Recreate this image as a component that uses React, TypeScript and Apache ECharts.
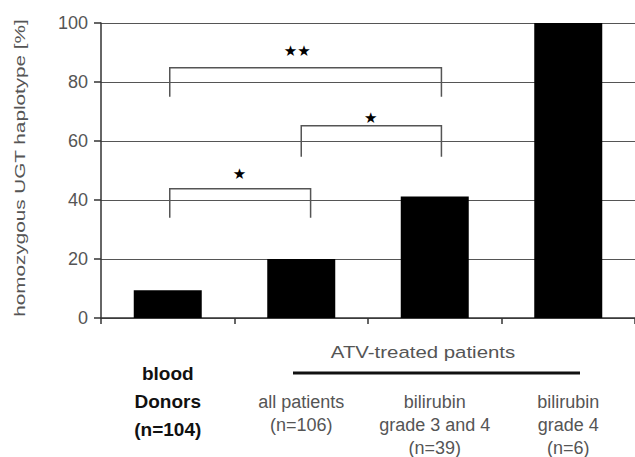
import React, { useEffect, useRef } from "react";
import * as echarts from "echarts";

const categories = [
  "{b|blood}\n{b|Donors}\n{b|(n=104)}",
  "{s| }\n{n|all patients}\n{n|(n=106)}",
  "{s| }\n{n|bilirubin}\n{n|grade 3 and 4}\n{n|(n=39)}",
  "{s| }\n{n|bilirubin}\n{n|grade 4}\n{n|(n=6)}",
];
const values = [9.4, 20, 41.2, 100];
const yTicks = [0, 20, 40, 60, 80, 100];

// significance brackets (x in category-index units, y in %)
const bracketFrom = [0.015, 1.0, 0.015];
const bracketTo = [1.07, 2.05, 2.05];
const bracketTop = [43.8, 65.2, 84.8];
const bracketBottom = [34.0, 54.7, 75.0];
const starX = [0.537, 1.52, 0.97];
const starY = [48.9, 67.9, 90.6];
const starText = ["★", "★", "★★"];

const groupLabel = "ATV-treated patients";
const yName = "homozygous UGT haplotype [%]";

const FONT = "'Liberation Sans', Arial, sans-serif";

export default function App() {
  const ref = useRef<HTMLDivElement>(null);
  useEffect(() => {
    if (!ref.current) return;
    const chart = echarts.init(ref.current, null, { renderer: "svg" });
    const bracketData = bracketFrom.map((f, i) => [
      f,
      bracketTo[i],
      bracketTop[i],
      bracketBottom[i],
      starX[i],
      starY[i],
    ]);
    chart.setOption({
      animation: false,
      backgroundColor: "#fff",
      textStyle: { fontFamily: FONT },
      grid: { left: 101, right: 0, top: 23, bottom: 139, containLabel: false },
      xAxis: [
        {
          type: "category",
          data: categories,
          boundaryGap: true,
          axisLine: { show: true, lineStyle: { color: "#333", width: 1.5 } },
          axisTick: { show: true, length: 6, lineStyle: { color: "#333", width: 1.5 } },
          axisLabel: {
            margin: 41,
            interval: 0,
            fontFamily: FONT,
            rich: {
              b: { fontWeight: "bold", fontSize: 19, lineHeight: 28, color: "#111", fontFamily: FONT },
              n: { fontSize: 18, lineHeight: 23, color: "#555", fontFamily: FONT },
              s: { fontSize: 2, lineHeight: 31 },
            },
          },
        },
        {
          type: "value",
          min: -0.5,
          max: 3.5,
          show: false,
          position: "top",
        },
      ],
      yAxis: {
        type: "value",
        min: 0,
        max: 100,
        interval: 20,
        axisLine: { show: true, onZero: false, lineStyle: { color: "#333", width: 1.5 } },
        axisTick: { show: true, length: 7, lineStyle: { color: "#333", width: 1.5 } },
        axisLabel: {
          margin: 13,
          fontSize: 18,
          color: "#555",
          fontFamily: FONT,
          formatter: (v: number) => (yTicks.includes(v) ? String(v) : ""),
        },
        splitLine: { show: true, lineStyle: { color: "#555", width: 1.2 } },
      },
      series: [
        {
          type: "bar",
          data: values,
          barWidth: 68,
          itemStyle: { color: "#000" },
          xAxisIndex: 0,
        },
        {
          type: "custom",
          xAxisIndex: 1,
          yAxisIndex: 0,
          data: bracketData,
          renderItem: (params: any, api: any) => {
            const x1 = api.value(0);
            const x2 = api.value(1);
            const top = api.value(2);
            const bot = api.value(3);
            const pBL = api.coord([x1, bot]);
            const pTL = api.coord([x1, top]);
            const pTR = api.coord([x2, top]);
            const pBR = api.coord([x2, bot]);
            const pS = api.coord([api.value(4), api.value(5)]);
            return {
              type: "group",
              children: [
                {
                  type: "polyline",
                  shape: { points: [pBL, pTL, pTR, pBR] },
                  style: { stroke: "#555", lineWidth: 1.5, fill: null },
                },
                {
                  type: "text",
                  x: pS[0],
                  y: pS[1],
                  style: {
                    text: starText[params.dataIndex],
                    fontSize: 15,
                    fill: "#000",
                    align: "center",
                    verticalAlign: "middle",
                    fontFamily: "'DejaVu Sans', sans-serif",
                  },
                },
              ],
            };
          },
        },
      ],
      graphic: [
        {
          type: "text",
          x: 423,
          y: 352,
          scaleX: 1.2,
          style: {
            text: groupLabel,
            fontSize: 17,
            fill: "#555",
            fontFamily: FONT,
            align: "center",
            verticalAlign: "middle",
          },
        },
        {
          type: "line",
          shape: { x1: 293, y1: 373, x2: 580, y2: 373 },
          style: { stroke: "#111", lineWidth: 3 },
        },
        {
          type: "text",
          x: 20,
          y: 168,
          rotation: Math.PI / 2,
          scaleX: 1.38,
          style: {
            text: yName,
            fontSize: 15,
            fill: "#555",
            fontFamily: FONT,
            align: "center",
            verticalAlign: "middle",
          },
        },
      ],
    });
    return () => chart.dispose();
  }, []);
  return (
    <div
      ref={ref}
      style={{ position: "fixed", left: 0, top: 0, width: 635, height: 457 }}
    />
  );
}
